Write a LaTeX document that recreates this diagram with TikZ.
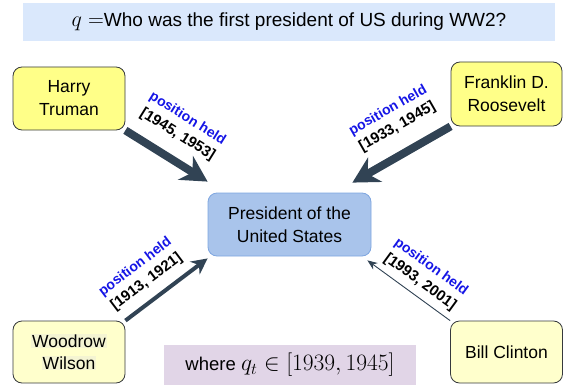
\RequirePackage{fix-cm}
\documentclass[tikz,border=0pt]{standalone}
\usepackage{fontspec}
\setmainfont{Liberation Sans}
\usetikzlibrary{arrows.meta,calc}
\definecolor{ybright}{HTML}{FFFF88}
\definecolor{ylight}{HTML}{FFFFCC}
\definecolor{yhl}{HTML}{F4F4D2}
\definecolor{bordergray}{HTML}{36393D}
\definecolor{presfill}{HTML}{A9C4EB}
\definecolor{presdraw}{HTML}{7EA6E0}
\definecolor{bannerblue}{HTML}{DAE8FC}
\definecolor{wherefill}{HTML}{E1D5E7}
\definecolor{arrowcol}{HTML}{314354}
\definecolor{labblue}{HTML}{1515E6}
\newcommand\hlword[1]{{\fboxsep=1pt\colorbox{yhl}{#1}}}
\newcommand\poslab[1]{\textcolor{labblue}{\fontsize{14}{19}\selectfont position held}\\\relax #1}
\begin{document}
\begin{tikzpicture}[x=1pt,y=-1pt,
  box/.style={draw=bordergray, line width=0.8pt, rounded corners=9pt, align=center,
    font=\fontsize{17.5}{23}\selectfont, inner sep=0pt},
  plain/.style={inner sep=0pt, align=center},
  arrbig/.style={draw=arrowcol, line width=8pt, -{Stealth[length=26pt,width=28pt]}},
  arrmid/.style={draw=arrowcol, line width=4pt, -{Stealth[length=16pt,width=16pt]}},
  arrthin/.style={draw=arrowcol, line width=0.9pt, -{Stealth[length=10pt,width=8pt]}},
  lab/.style={sloped, inner sep=0pt, align=center, font=\bfseries\fontsize{15}{19}\selectfont}
]
\useasboundingbox (0,0) rectangle (564,385);
\node[plain, fill=bannerblue, minimum width=532pt, minimum height=38pt,
  font=\fontsize{19}{23}\selectfont] (q) at (289,22)
  {{\fontsize{22}{23}\selectfont$q=$}Who was the first president of US during WW2?};
\node[box, fill=ybright, minimum width=112pt, minimum height=63pt] (truman) at (69,98.5) {Harry\\Truman};
\node[box, fill=ybright, minimum width=111pt, minimum height=64pt] (fdr) at (506.5,94) {Franklin D.\\Roosevelt};
\node[box, draw=presdraw, fill=presfill, minimum width=163pt, minimum height=63pt] (pres) at (289.5,224.5) {President of the\\United States};
\node[box, fill=ylight, minimum width=112pt, minimum height=62pt, font=\fontsize{17.5}{22}\selectfont] (wilson) at (69,352) {\hlword{Woodrow}\\\hlword{Wilson}};
\node[box, fill=ylight, minimum width=112pt, minimum height=62pt] (clinton) at (506.5,352) {Bill Clinton};
\node[plain, fill=wherefill, minimum width=252pt, minimum height=40pt,
  font=\fontsize{18.5}{22}\selectfont] (where) at (290,365)
  {where {\fontsize{23.5}{24}\selectfont$q_t\in[1939,1945]$}};

\draw[arrbig] (truman.south east) -- node[lab, pos=0.48, above=13pt]
  {\poslab{[1945, 1953]}}
  ($(pres.north west)+(0pt,11pt)$);
\draw[arrbig] (fdr.south west) -- node[lab, pos=0.41, above=15pt]
  {\poslab{[1933, 1945]}}
  ($(pres.north east)+(-19pt,10pt)$);
\draw[arrmid] (wilson.north east) -- node[lab, pos=0.39, above=9pt]
  {\poslab{[1913, 1921]}}
  ($(pres.south west)+(0pt,-2pt)$);
\draw[arrthin] (clinton.north west) -- node[lab, pos=0.46, above=6pt]
  {\poslab{[1993, 2001]}}
  ($(pres.south east)+(-4pt,-4pt)$);
\end{tikzpicture}
\end{document}
